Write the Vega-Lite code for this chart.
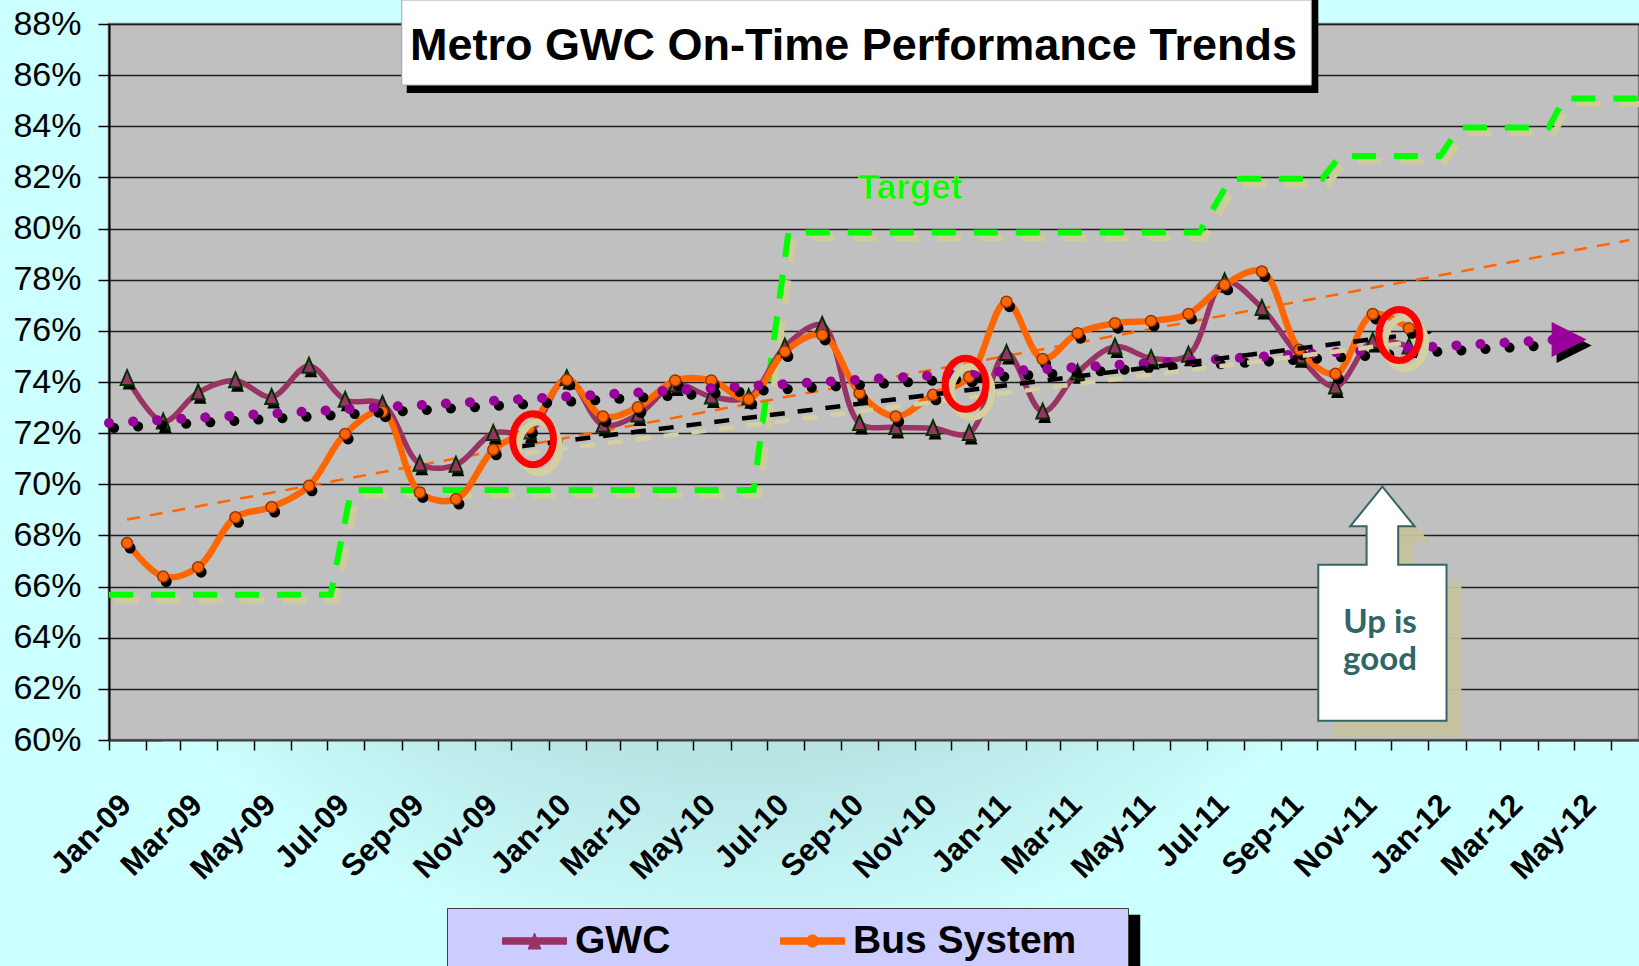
{
  "$schema": "https://vega.github.io/schema/vega-lite/v6.json",
  "width": 1530,
  "height": 716,
  "autosize": {"type": "none"},
  "padding": {"left": 109, "top": 24, "right": 0, "bottom": 226},
  "background": "#CCFFFF",
  "config": {
    "view": {"fill": "#C0C0C0", "stroke": "#808080", "strokeWidth": 2.5},
    "font": "Liberation Sans"
  },
  "datasets": {
    "perf": [
      {"date": "2009-01-16", "series": "GWC", "value": 74.15},
      {"date": "2009-02-15", "series": "GWC", "value": 72.45},
      {"date": "2009-03-16", "series": "GWC", "value": 73.59},
      {"date": "2009-04-16", "series": "GWC", "value": 74.06},
      {"date": "2009-05-16", "series": "GWC", "value": 73.41},
      {"date": "2009-06-16", "series": "GWC", "value": 74.63},
      {"date": "2009-07-16", "series": "GWC", "value": 73.30},
      {"date": "2009-08-16", "series": "GWC", "value": 73.14},
      {"date": "2009-09-16", "series": "GWC", "value": 70.80},
      {"date": "2009-10-16", "series": "GWC", "value": 70.76},
      {"date": "2009-11-16", "series": "GWC", "value": 72.00},
      {"date": "2009-12-16", "series": "GWC", "value": 72.06},
      {"date": "2010-01-16", "series": "GWC", "value": 74.15},
      {"date": "2010-02-15", "series": "GWC", "value": 72.32},
      {"date": "2010-03-16", "series": "GWC", "value": 72.72},
      {"date": "2010-04-16", "series": "GWC", "value": 73.89},
      {"date": "2010-05-16", "series": "GWC", "value": 73.43},
      {"date": "2010-06-16", "series": "GWC", "value": 73.40},
      {"date": "2010-07-16", "series": "GWC", "value": 75.38},
      {"date": "2010-08-16", "series": "GWC", "value": 76.23},
      {"date": "2010-09-16", "series": "GWC", "value": 72.39},
      {"date": "2010-10-16", "series": "GWC", "value": 72.23},
      {"date": "2010-11-16", "series": "GWC", "value": 72.19},
      {"date": "2010-12-16", "series": "GWC", "value": 72.00},
      {"date": "2011-01-16", "series": "GWC", "value": 75.13},
      {"date": "2011-02-15", "series": "GWC", "value": 72.84},
      {"date": "2011-03-16", "series": "GWC", "value": 74.37},
      {"date": "2011-04-16", "series": "GWC", "value": 75.38},
      {"date": "2011-05-16", "series": "GWC", "value": 74.93},
      {"date": "2011-06-16", "series": "GWC", "value": 75.06},
      {"date": "2011-07-16", "series": "GWC", "value": 77.93},
      {"date": "2011-08-16", "series": "GWC", "value": 76.89},
      {"date": "2011-09-16", "series": "GWC", "value": 75.00},
      {"date": "2011-10-16", "series": "GWC", "value": 73.82},
      {"date": "2011-11-16", "series": "GWC", "value": 75.60},
      {"date": "2011-12-16", "series": "GWC", "value": 75.38},
      {"date": "2009-01-16", "series": "Bus System", "value": 67.70},
      {"date": "2009-02-15", "series": "Bus System", "value": 66.39},
      {"date": "2009-03-16", "series": "Bus System", "value": 66.76},
      {"date": "2009-04-16", "series": "Bus System", "value": 68.71},
      {"date": "2009-05-16", "series": "Bus System", "value": 69.11},
      {"date": "2009-06-16", "series": "Bus System", "value": 69.94},
      {"date": "2009-07-16", "series": "Bus System", "value": 71.97},
      {"date": "2009-08-16", "series": "Bus System", "value": 72.84},
      {"date": "2009-09-16", "series": "Bus System", "value": 69.68},
      {"date": "2009-10-16", "series": "Bus System", "value": 69.42},
      {"date": "2009-11-16", "series": "Bus System", "value": 71.35},
      {"date": "2009-12-16", "series": "Bus System", "value": 72.20},
      {"date": "2010-01-16", "series": "Bus System", "value": 74.08},
      {"date": "2010-02-15", "series": "Bus System", "value": 72.65},
      {"date": "2010-03-16", "series": "Bus System", "value": 73.01},
      {"date": "2010-04-16", "series": "Bus System", "value": 74.06},
      {"date": "2010-05-16", "series": "Bus System", "value": 74.06},
      {"date": "2010-06-16", "series": "Bus System", "value": 73.33},
      {"date": "2010-07-16", "series": "Bus System", "value": 75.19},
      {"date": "2010-08-16", "series": "Bus System", "value": 75.84},
      {"date": "2010-09-16", "series": "Bus System", "value": 73.56},
      {"date": "2010-10-16", "series": "Bus System", "value": 72.65},
      {"date": "2010-11-16", "series": "Bus System", "value": 73.50},
      {"date": "2010-12-16", "series": "Bus System", "value": 74.20},
      {"date": "2011-01-16", "series": "Bus System", "value": 77.14},
      {"date": "2011-02-15", "series": "Bus System", "value": 74.90},
      {"date": "2011-03-16", "series": "Bus System", "value": 75.91},
      {"date": "2011-04-16", "series": "Bus System", "value": 76.30},
      {"date": "2011-05-16", "series": "Bus System", "value": 76.39},
      {"date": "2011-06-16", "series": "Bus System", "value": 76.66},
      {"date": "2011-07-16", "series": "Bus System", "value": 77.80},
      {"date": "2011-08-16", "series": "Bus System", "value": 78.32},
      {"date": "2011-09-16", "series": "Bus System", "value": 75.26},
      {"date": "2011-10-16", "series": "Bus System", "value": 74.32},
      {"date": "2011-11-16", "series": "Bus System", "value": 76.66},
      {"date": "2011-12-16", "series": "Bus System", "value": 76.10}
    ],
    "target": [
      {"date": "2009-01-01", "value": 65.68},
      {"date": "2009-07-04", "value": 65.68},
      {"date": "2009-07-21", "value": 69.78},
      {"date": "2010-06-20", "value": 69.78},
      {"date": "2010-07-19", "value": 79.85},
      {"date": "2011-06-25", "value": 79.85},
      {"date": "2011-07-21", "value": 81.95},
      {"date": "2011-10-05", "value": 81.95},
      {"date": "2011-10-20", "value": 82.84},
      {"date": "2012-01-11", "value": 82.84},
      {"date": "2012-01-27", "value": 83.95},
      {"date": "2012-04-10", "value": 83.95},
      {"date": "2012-04-23", "value": 85.09},
      {"date": "2012-07-01", "value": 85.09}
    ],
    "busTrend": [
      {"date": "2009-01-16", "value": 68.62},
      {"date": "2012-06-16", "value": 79.55}
    ],
    "gwcTrend": [
      {"date": "2009-01-01", "value": 72.40},
      {"date": "2012-04-14", "value": 75.65}
    ],
    "gwcTrendEnd": [
      {"date": "2012-04-27", "value": 75.66}
    ],
    "decTrend": [
      {"date": "2009-12-08", "value": 71.48},
      {"date": "2011-12-23", "value": 75.89}
    ],
    "decTrendEnd": [
      {"date": "2011-12-29", "value": 75.93}
    ],
    "circles": [
      {"date": "2009-12-19", "value": 71.76},
      {"date": "2010-12-13", "value": 73.93},
      {"date": "2011-12-08", "value": 75.84}
    ],
    "glow": [
      {"date": "2009-02-15", "date2": "2012-03-01", "value": 60, "value2": 50.5}
    ],
    "legendShadow": [
      {"date": "2009-10-14", "date2": "2011-05-07", "value": 53.17, "value2": 48}
    ],
    "titleBox": [
      {"date": "2009-09-01", "date2": "2011-09-26", "value": 85.61, "value2": 88.94}
    ],
    "titleText": [
      {"date": "2010-09-11", "value": 86.61, "label": "Metro GWC On-Time Performance Trends"}
    ],
    "targetLabel": [
      {"date": "2010-10-28", "value": 81.6, "label": "Target"}
    ],
    "callout": [
      {"date": "2011-11-24", "value": 65.33}
    ],
    "calloutText": [
      {"date": "2011-11-22", "value": 64.19}
    ]
  },
  "encoding": {
    "x": {
      "field": "date",
      "type": "temporal",
      "title": null,
      "scale": {
        "type": "utc",
        "domain": [
          {"year": 2009, "month": 1, "date": 1, "utc": true},
          {"year": 2012, "month": 6, "date": 24, "utc": true}
        ]
      },
      "axis": {
        "title": null,
        "tickCount": {"interval": "month", "step": 1},
        "labelExpr": "utcmonth(datum.value) % 2 == 0 ? utcFormat(datum.value, '%b-%y') : ''",
        "labelAngle": -45,
        "labelAlign": "right",
        "labelBaseline": "middle",
        "labelFont": "Liberation Sans",
        "labelFontSize": 31,
        "labelFontWeight": "bold",
        "labelColor": "black",
        "labelOffset": 17,
        "labelPadding": 50,
        "labelOverlap": false,
        "labelFlush": false,
        "labelBound": false,
        "tickSize": 10,
        "tickColor": "black",
        "tickWidth": 1.5,
        "domainColor": "#404040",
        "domainWidth": 2,
        "grid": false,
        "zindex": 1
      }
    },
    "y": {
      "field": "value",
      "type": "quantitative",
      "title": null,
      "scale": {"domain": [60, 88], "zero": false, "nice": false},
      "axis": {
        "title": null,
        "values": [60, 62, 64, 66, 68, 70, 72, 74, 76, 78, 80, 82, 84, 86, 88],
        "labelExpr": "datum.value + '%'",
        "labelFont": "Liberation Sans",
        "labelFontSize": 34,
        "labelColor": "black",
        "labelPadding": 17,
        "labelFlush": false,
        "tickSize": 11,
        "tickColor": "black",
        "tickWidth": 1.5,
        "domainColor": "black",
        "domainWidth": 2,
        "grid": true,
        "gridColor": "#1e1e1e",
        "gridWidth": 1.5
      }
    }
  },
  "layer": [
    {
      "data": {"name": "glow", "format": {"parse": {"date2": "date"}}},
      "mark": {
        "type": "rect",
        "clip": false,
        "fill": {
          "gradient": "radial",
          "x1": 0.43, "y1": 0.0, "r1": 0,
          "x2": 0.43, "y2": 0.0, "r2": 0.58,
          "stops": [
            {"offset": 0, "color": "#A2CACA"},
            {"offset": 0.45, "color": "#A9D3D3"},
            {"offset": 0.75, "color": "#BAE6E6"},
            {"offset": 1, "color": "#CCFFFF"}
          ]
        }
      },
      "encoding": {"x2": {"field": "date2"}, "y2": {"field": "value2"}}
    },
    {
      "data": {"name": "legendShadow", "format": {"parse": {"date2": "date"}}},
      "mark": {"type": "rect", "clip": false, "fill": "black"},
      "encoding": {"x2": {"field": "date2"}, "y2": {"field": "value2"}}
    },
    {
      "data": {"name": "titleBox", "format": {"parse": {"date2": "date"}}},
      "mark": {"type": "rect", "clip": false, "fill": "black", "xOffset": 5, "x2Offset": 7, "yOffset": 8},
      "encoding": {"x2": {"field": "date2"}, "y2": {"field": "value2"}}
    },
    {
      "data": {"name": "titleBox", "format": {"parse": {"date2": "date"}}},
      "mark": {"type": "rect", "clip": false, "fill": "white", "stroke": "#A0A0A0", "strokeWidth": 1},
      "encoding": {"x2": {"field": "date2"}, "y2": {"field": "value2"}}
    },
    {
      "data": {"name": "titleText"},
      "mark": {"type": "text", "clip": false, "font": "Liberation Sans", "fontWeight": "bold", "fontSize": 45, "color": "black", "align": "center", "baseline": "alphabetic"},
      "encoding": {"text": {"field": "label"}}
    },
    {
      "data": {"name": "target"},
      "mark": {"type": "line", "clip": true, "stroke": "#CFCB9B", "strokeWidth": 6, "strokeDash": [24, 18], "xOffset": 5.5, "yOffset": 5.5}
    },
    {
      "data": {"name": "target"},
      "mark": {"type": "line", "clip": true, "stroke": "#00FF00", "strokeWidth": 6, "strokeDash": [24, 18]}
    },
    {
      "data": {"name": "targetLabel"},
      "mark": {"type": "text", "font": "Liberation Sans", "fontWeight": "bold", "fontSize": 35, "color": "#00FF00", "stroke": "#CFCB9B", "strokeWidth": 0.6, "align": "center", "baseline": "middle"},
      "encoding": {"text": {"field": "label"}}
    },
    {
      "data": {"name": "busTrend"},
      "mark": {"type": "line", "clip": true, "stroke": "#FF6600", "strokeWidth": 2.5, "strokeDash": [13, 10]}
    },
    {
      "data": {"name": "perf"},
      "transform": [{"filter": "datum.series === 'GWC'"}],
      "mark": {"type": "line", "interpolate": "catmull-rom", "strokeWidth": 5.5},
      "encoding": {
        "color": {
          "field": "series",
          "type": "nominal",
          "scale": {"domain": ["GWC", "Bus System"], "range": ["#993366", "#FF6600"]},
          "legend": {
            "title": "\u00a0",
            "titleOrient": "right",
            "titlePadding": 39,
            "titleFontSize": 8,
            "orient": "none",
            "legendX": 338,
            "legendY": 884,
            "direction": "horizontal",
            "fillColor": "#CCCCFF",
            "strokeColor": "#404040",
            "padding": 13,
            "symbolOffset": 42,
            "labelOffset": 8,
            "columnPadding": 67,
            "clipHeight": 40,
            "symbolSize": 4096,
            "symbolStrokeWidth": 1,
            "labelFont": "Liberation Sans",
            "labelFontSize": 39,
            "labelFontWeight": "bold",
            "labelColor": "black",
            "labelLimit": 500,
            "encode": {
              "symbols": {
                "update": {
                  "shape": {"signal": "datum.value == 'GWC' ? 'M-1,-0.1H1V0.1H-1Z M-0.2,0.25L0,-0.25L0.2,0.25Z' : 'M-1,-0.1H1V0.1H-1Z M0.19,0A0.19,0.19 0 1,1 -0.19,0A0.19,0.19 0 1,1 0.19,0Z'"},
                  "fill": {"scale": "color", "field": "value"},
                  "stroke": {"scale": "color", "field": "value"},
                  "strokeWidth": {"value": 1},
                  "opacity": {"value": 1}
                }
              }
            }
          }
        }
      }
    },
    {
      "data": {"name": "perf"},
      "transform": [{"filter": "datum.series === 'Bus System'"}],
      "mark": {"type": "line", "interpolate": "catmull-rom", "strokeWidth": 6.5},
      "encoding": {
        "color": {
          "field": "series",
          "type": "nominal",
          "scale": {"domain": ["GWC", "Bus System"], "range": ["#993366", "#FF6600"]}
        }
      }
    },
    {
      "data": {"name": "perf"},
      "transform": [{"filter": "datum.series === 'GWC'"}],
      "mark": {"type": "point", "shape": "M0,-1L0.8,0.85L-0.8,0.85Z", "size": 256, "filled": true, "fill": "black", "opacity": 1, "strokeWidth": 0, "xOffset": 2, "yOffset": 4.5}
    },
    {
      "data": {"name": "perf"},
      "transform": [{"filter": "datum.series === 'GWC'"}],
      "mark": {"type": "point", "shape": "M0,-1L0.8,0.85L-0.8,0.85Z", "size": 256, "filled": true, "fill": "#993366", "stroke": "#003300", "strokeWidth": 2, "opacity": 1}
    },
    {
      "data": {"name": "perf"},
      "transform": [{"filter": "datum.series === 'Bus System'"}],
      "mark": {"type": "point", "shape": "circle", "size": 121, "filled": true, "fill": "black", "opacity": 1, "strokeWidth": 0, "xOffset": 3, "yOffset": 5}
    },
    {
      "data": {"name": "perf"},
      "transform": [{"filter": "datum.series === 'Bus System'"}],
      "mark": {"type": "point", "shape": "circle", "size": 121, "filled": true, "fill": "#FF6600", "stroke": "#993300", "strokeWidth": 1.5, "opacity": 1}
    },
    {
      "data": {"name": "gwcTrend"},
      "mark": {"type": "line", "clip": false, "stroke": "black", "strokeWidth": 10, "strokeCap": "round", "strokeDash": [0.1, 24], "xOffset": 5, "yOffset": 5}
    },
    {
      "data": {"name": "gwcTrend"},
      "mark": {"type": "line", "clip": false, "stroke": "#990099", "strokeWidth": 10, "strokeCap": "round", "strokeDash": [0.1, 24]}
    },
    {
      "data": {"name": "gwcTrendEnd"},
      "mark": {"type": "point", "shape": "M-1,-1L1,0L-1,1Z", "size": 1225, "filled": true, "fill": "black", "opacity": 1, "strokeWidth": 0, "xOffset": 5, "yOffset": 6}
    },
    {
      "data": {"name": "gwcTrendEnd"},
      "mark": {"type": "point", "shape": "M-1,-1L1,0L-1,1Z", "size": 1225, "filled": true, "fill": "#990099", "opacity": 1, "strokeWidth": 0}
    },
    {
      "data": {"name": "decTrend"},
      "mark": {"type": "line", "stroke": "#D4D0A2", "strokeWidth": 4.5, "strokeDash": [15, 13], "xOffset": 5, "yOffset": 7}
    },
    {
      "data": {"name": "decTrend"},
      "mark": {"type": "line", "stroke": "black", "strokeWidth": 4.5, "strokeDash": [15, 13]}
    },
    {
      "data": {"name": "decTrendEnd"},
      "mark": {"type": "point", "shape": "M-1,-0.8L1,0L-1,0.8Z", "size": 225, "filled": true, "fill": "black", "opacity": 1, "strokeWidth": 0}
    },
    {
      "data": {"name": "circles"},
      "mark": {"type": "point", "shape": "M0,-1A0.8,1 0 1,1 0,1A0.8,1 0 1,1 0,-1Z", "size": 2600, "filled": false, "stroke": "#D3CFA0", "strokeWidth": 7, "opacity": 1, "xOffset": 6, "yOffset": 8}
    },
    {
      "data": {"name": "circles"},
      "mark": {"type": "point", "shape": "M0,-1A0.8,1 0 1,1 0,1A0.8,1 0 1,1 0,-1Z", "size": 2600, "filled": false, "stroke": "#FF0000", "strokeWidth": 7, "opacity": 1}
    },
    {
      "data": {"name": "callout"},
      "mark": {"type": "point", "shape": "M0,-1L0.275,-0.662L0.135,-0.662L0.135,-0.334L0.548,-0.334L0.548,1L-0.548,1L-0.548,-0.334L-0.135,-0.334L-0.135,-0.662L-0.275,-0.662Z", "size": 54756, "filled": true, "fill": "#C5C29E", "opacity": 0.95, "strokeWidth": 0, "xOffset": 15, "yOffset": 16}
    },
    {
      "data": {"name": "callout"},
      "mark": {"type": "point", "shape": "M0,-1L0.275,-0.662L0.135,-0.662L0.135,-0.334L0.548,-0.334L0.548,1L-0.548,1L-0.548,-0.334L-0.135,-0.334L-0.135,-0.662L-0.275,-0.662Z", "size": 54756, "filled": true, "fill": "white", "stroke": "#336666", "strokeWidth": 2, "opacity": 1}
    },
    {
      "data": {"name": "calloutText"},
      "mark": {"type": "text", "text": ["Up is", "good"], "font": "Lato", "fontWeight": "bold", "fontSize": 33, "lineHeight": 37, "color": "#2F6666", "align": "center", "baseline": "alphabetic"}
    }
  ]
}
